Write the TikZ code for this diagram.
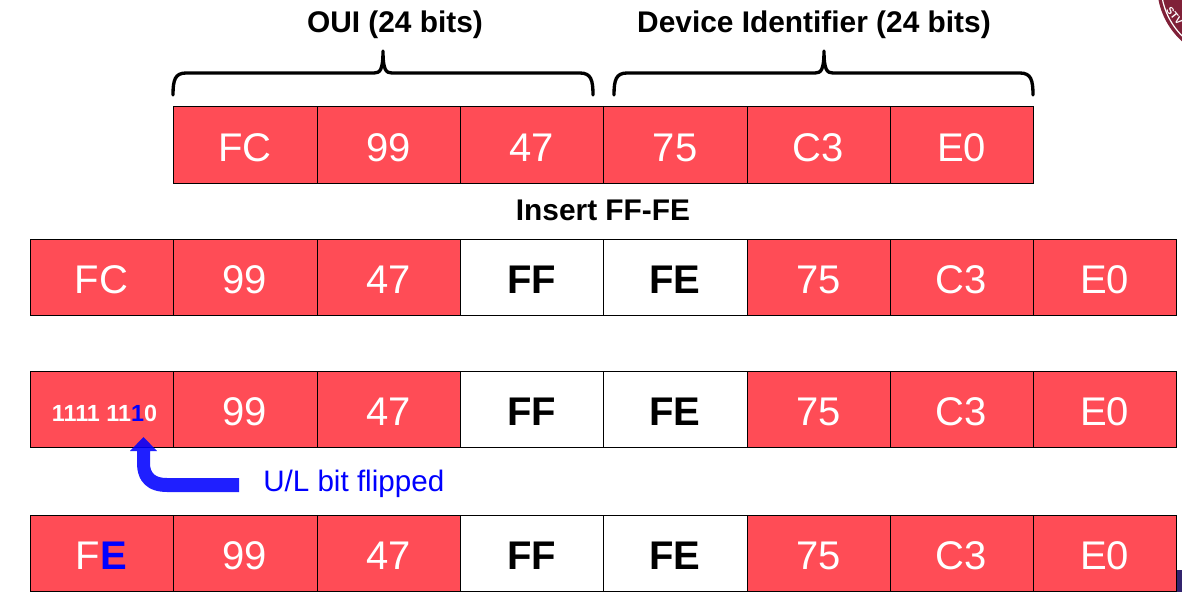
\documentclass[tikz,border=0pt]{standalone}
\usepackage{fontspec}
\setmainfont{Liberation Sans}
\definecolor{cellred}{RGB}{255,76,86}
\definecolor{seal}{RGB}{128,32,56}
\definecolor{cornerblue}{RGB}{50,36,110}
\newcommand{\cellfs}{\fontsize{30}{32}\selectfont}
\newcommand{\headfs}{\fontsize{22.4}{24}\selectfont}
\tikzset{
  cellbox/.style={draw=black,line width=0.75pt,fill=cellred,text=white,minimum height=57pt,inner sep=0pt,font=\cellfs,anchor=center,text height=25.3pt,text depth=0pt},
  whitebox/.style={cellbox,fill=white,text=black,font=\cellfs\bfseries},
  bitsbox/.style={cellbox,font=\fontsize{17.5}{20}\selectfont\bfseries,text height=18.5pt,text depth=0pt},
  headlabel/.style={font=\headfs\bfseries,text=black,inner sep=0pt},
  bracestroke/.style={draw=black,line width=2.5pt,line cap=round,line join=round},
  ullabel/.style={font=\fontsize{22.2}{24}\selectfont,text=blue,inner sep=0pt,anchor=west}
}
\newcommand{\cellat}[6]{% name, style, x0, x1, yc, text
  \node[#2,minimum width=#4*0.75pt-#3*0.75pt] (#1) at ({(#3+#4)/2},#5) {#6};}
\begin{document}
\begin{tikzpicture}[x=0.75pt,y=-0.75pt]
\useasboundingbox (0,0) rectangle (1182,592);
% seal fragment
\begin{scope}
\clip (0,0) rectangle (1182,592);
\fill[seal] (1233,-15) circle (76);
\draw[white,line width=0.9pt] (1233,-15) circle (72);
\node[rotate=-51,text=white,inner sep=0pt,font=\fontsize{7.5}{9}\selectfont\bfseries] (sealtext) at (1174.5,15.5) {STV};
\fill[cornerblue] (1176,570) rectangle (1182,592);
\end{scope}
% headings
\node[headlabel] (oui) at (395,25) {OUI (24 bits)};
\node[headlabel] (dev) at (814,25) {Device Identifier (24 bits)};
\node[headlabel] (ins) at (603,210) {Insert FF-FE};
% braces
\draw[bracestroke] (173,95) .. controls (173,80) and (175,73) .. (186,73) -- (374,73) .. controls (380,73) and (383,70) .. (383,51) .. controls (383,70) and (386,73) .. (392,73) -- (580,73) .. controls (591,73) and (593,80) .. (593,95);
\draw[bracestroke] (614,95) .. controls (614,80) and (616,73) .. (627,73) -- (815,73) .. controls (821,73) and (824,70) .. (824,51) .. controls (824,70) and (827,73) .. (833,73) -- (1020,73) .. controls (1031,73) and (1033,80) .. (1033,95);
% row 1
\cellat{a1}{cellbox}{173}{317}{145}{FC}
\cellat{a2}{cellbox}{317}{460}{145}{99}
\cellat{a3}{cellbox}{460}{603}{145}{47}
\cellat{a4}{cellbox}{603}{747}{145}{75}
\cellat{a5}{cellbox}{747}{890}{145}{C3}
\cellat{a6}{cellbox}{890}{1033}{145}{E0}
% row 2
\cellat{b1}{cellbox}{30}{173}{277}{FC}
\cellat{b2}{cellbox}{173}{317}{277}{99}
\cellat{b3}{cellbox}{317}{460}{277}{47}
\cellat{b4}{whitebox}{460}{603}{277}{FF}
\cellat{b5}{whitebox}{603}{747}{277}{FE}
\cellat{b6}{cellbox}{747}{890}{277}{75}
\cellat{b7}{cellbox}{890}{1033}{277}{C3}
\cellat{b8}{cellbox}{1033}{1176}{277}{E0}
% row 3
\cellat{c1}{bitsbox}{30}{173}{409}{\hspace*{4.5pt}1111 11\textcolor{blue}{1}0}
\cellat{c2}{cellbox}{173}{317}{409}{99}
\cellat{c3}{cellbox}{317}{460}{409}{47}
\cellat{c4}{whitebox}{460}{603}{409}{FF}
\cellat{c5}{whitebox}{603}{747}{409}{FE}
\cellat{c6}{cellbox}{747}{890}{409}{75}
\cellat{c7}{cellbox}{890}{1033}{409}{C3}
\cellat{c8}{cellbox}{1033}{1176}{409}{E0}
% row 4
\cellat{d1}{cellbox}{30}{173}{553}{F\textcolor{blue}{\bfseries E}}
\cellat{d2}{cellbox}{173}{317}{553}{99}
\cellat{d3}{cellbox}{317}{460}{553}{47}
\cellat{d4}{whitebox}{460}{603}{553}{FF}
\cellat{d5}{whitebox}{603}{747}{553}{FE}
\cellat{d6}{cellbox}{747}{890}{553}{75}
\cellat{d7}{cellbox}{890}{1033}{553}{C3}
\cellat{d8}{cellbox}{1033}{1176}{553}{E0}
% U/L arrow
\node[ullabel] (ul) at (263,484) {U/L bit flipped};
\fill[blue,fill opacity=0.88] (239,478) -- (167,478) .. controls (155,478) and (150,473) .. (150,463) -- (150,451) -- (157,451) -- (143.5,437) -- (130,451) -- (137,451) -- (137,463) .. controls (137,482) and (148,492) .. (167,492) -- (239,492) -- cycle;
\end{tikzpicture}
\end{document}
